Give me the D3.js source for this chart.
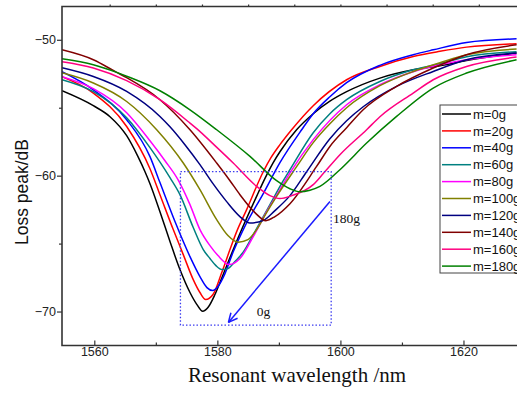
<!DOCTYPE html>
<html>
<head>
<meta charset="utf-8">
<script src="https://cdn.jsdelivr.net/npm/d3@7"></script>
<style>
  html, body { margin: 0; padding: 0; background: #fff; }
  svg { display: block; }
</style>
</head>
<body>
<div id="grafico"></div>
<script>
// Curvas de pérdida vs longitud de onda para distintas masas

const ancho = 517;
const alto = 398;

// series: [longitud de onda (nm), pérdida (dB)]
const m0g = [[1554.75,-53.75],[1559.84,-54.85],[1562.55,-55.66],[1565.26,-57.06],[1567.10,-58.60],[1568.24,-59.71],[1569.05,-60.59],[1570.67,-62.65],[1572.30,-64.85],[1573.92,-66.91],[1575.55,-68.60],[1576.68,-69.49],[1577.61,-69.98],[1578.47,-69.71],[1579.61,-68.75],[1580.75,-67.50],[1582.05,-66.03],[1583.67,-64.26],[1586.38,-61.52],[1587.72,-60.22],[1589.08,-59.04],[1590.17,-58.24],[1592.88,-56.62],[1595.58,-55.44],[1598.29,-54.52],[1601.01,-53.82],[1606.42,-52.82],[1611.83,-52.21],[1616.17,-51.91],[1620.50,-51.52],[1628.63,-50.98]];
const m20g = [[1554.75,-52.72],[1559.84,-53.92],[1565.26,-56.38],[1569.05,-59.49],[1570.67,-61.40],[1572.83,-63.97],[1574.46,-65.81],[1576.08,-67.65],[1577.17,-68.60],[1578.10,-69.12],[1579.29,-68.75],[1580.70,-67.15],[1582.05,-65.44],[1583.14,-64.12],[1584.76,-62.50],[1587.46,-59.71],[1588.71,-58.68],[1590.17,-57.72],[1592.07,-56.62],[1595.58,-54.85],[1601.01,-52.94],[1606.42,-51.96],[1611.83,-51.23],[1616.17,-50.85],[1620.50,-50.54],[1628.63,-50.29]];
const m40g = [[1554.75,-52.35],[1559.84,-53.68],[1565.26,-55.88],[1569.05,-58.60],[1570.67,-60.51],[1573.11,-63.38],[1575.55,-65.96],[1577.17,-67.43],[1578.31,-68.24],[1579.24,-68.46],[1580.10,-68.16],[1581.24,-67.21],[1582.53,-65.66],[1584.21,-63.97],[1587.46,-61.32],[1590.17,-59.04],[1593.70,-56.62],[1595.58,-55.44],[1598.29,-54.19],[1601.01,-53.16],[1606.42,-51.88],[1611.83,-51.10],[1615.08,-50.74],[1620.50,-50.20],[1628.63,-49.93]];
const m60g = [[1554.75,-52.94],[1559.84,-53.82],[1565.26,-55.74],[1569.05,-57.94],[1572.30,-60.15],[1573.92,-61.40],[1576.08,-63.82],[1577.71,-65.44],[1578.80,-66.10],[1579.77,-66.62],[1580.75,-66.91],[1581.72,-66.84],[1582.86,-66.32],[1584.16,-65.66],[1586.11,-64.12],[1588.55,-62.13],[1590.71,-60.37],[1591.80,-59.56],[1595.58,-56.84],[1598.29,-55.44],[1601.01,-54.41],[1606.42,-53.07],[1611.83,-52.21],[1616.17,-51.76],[1620.50,-51.25],[1628.63,-50.88]];
const m80g = [[1554.75,-52.72],[1559.84,-53.60],[1565.26,-55.37],[1569.05,-57.43],[1571.49,-58.90],[1573.60,-60.29],[1575.55,-62.13],[1577.17,-63.97],[1578.80,-65.15],[1580.10,-65.88],[1581.93,-66.54],[1583.67,-66.10],[1585.83,-64.49],[1588.01,-62.65],[1590.17,-61.03],[1591.80,-59.80],[1595.58,-57.35],[1601.01,-54.78],[1606.42,-53.31],[1611.83,-52.35],[1616.17,-51.84],[1620.50,-51.47],[1628.63,-51.10]];
const m100g = [[1554.75,-52.43],[1559.84,-53.18],[1565.26,-54.54],[1570.14,-56.62],[1574.46,-59.07],[1577.17,-61.03],[1579.89,-63.24],[1581.72,-64.41],[1583.40,-64.90],[1584.97,-64.71],[1586.38,-63.97],[1587.90,-62.79],[1589.63,-61.52],[1592.88,-59.34],[1595.58,-57.57],[1598.29,-56.18],[1601.01,-55.00],[1606.42,-53.38],[1611.83,-52.33],[1616.17,-51.69],[1620.50,-51.10],[1628.63,-50.68]];
const m120g = [[1554.75,-52.06],[1559.84,-52.70],[1565.26,-53.80],[1570.67,-55.64],[1572.30,-56.40],[1574.73,-57.72],[1577.17,-59.19],[1579.29,-60.59],[1581.51,-61.91],[1583.67,-63.01],[1585.30,-63.49],[1587.41,-63.31],[1589.36,-62.57],[1591.80,-61.47],[1594.51,-59.71],[1598.29,-57.28],[1601.01,-55.96],[1603.70,-54.93],[1609.13,-53.43],[1615.08,-52.33],[1620.50,-51.47],[1628.63,-50.98]];
const m140g = [[1554.75,-50.74],[1559.84,-51.47],[1563.64,-52.40],[1565.26,-52.79],[1570.67,-54.41],[1575.55,-56.62],[1579.89,-59.07],[1582.05,-60.37],[1583.67,-61.40],[1586.11,-62.72],[1587.90,-63.31],[1589.36,-63.01],[1591.80,-62.06],[1596.13,-59.32],[1598.29,-57.85],[1601.01,-56.47],[1603.70,-55.15],[1609.13,-53.43],[1615.08,-52.08],[1620.50,-51.10],[1628.63,-50.37]];
const m160g = [[1554.75,-51.62],[1559.84,-52.08],[1565.26,-53.01],[1570.67,-54.41],[1575.55,-56.13],[1576.64,-56.54],[1579.61,-57.79],[1582.58,-59.07],[1586.38,-60.79],[1588.55,-61.47],[1590.17,-61.69],[1592.12,-61.47],[1595.58,-60.66],[1597.21,-59.85],[1599.92,-58.46],[1604.26,-56.62],[1606.42,-55.66],[1611.83,-53.92],[1615.08,-52.94],[1620.50,-51.96],[1628.63,-51.27]];
const m180g = [[1554.75,-51.40],[1559.84,-51.84],[1563.64,-52.40],[1565.26,-52.68],[1570.67,-53.75],[1575.55,-55.15],[1579.89,-56.62],[1585.30,-58.58],[1589.63,-60.37],[1591.80,-60.96],[1593.42,-61.18],[1595.05,-61.07],[1596.67,-60.79],[1599.92,-59.56],[1604.26,-57.60],[1609.13,-55.64],[1615.08,-53.55],[1620.50,-52.45],[1628.63,-51.47]];

const nombres = ["m=0g","m=20g","m=40g","m=60g","m=80g","m=100g","m=120g","m=140g","m=160g","m=180g"];
const colores = ["#000000","#ff0000","#0000ff","#008080","#ff00ff","#808000","#000080","#800000","#ff0080","#008000"];
const seriesDatos = [m0g, m20g, m40g, m60g, m80g, m100g, m120g, m140g, m160g, m180g];

// ejes
const ticksX = [1560, 1580, 1600, 1620];
const ticksXMenor = [1570, 1590, 1610];
const ticksY = [-70, -60, -50];
const ticksYMenor = [-65, -55];

// anotación: recuadro punteado, flecha y textos
const recuadro = [[1574.0, -59.7], [1598.5, -71.0]];
const flecha = [[1598.3, -61.9], [1581.8, -70.8]];
const textos = [{t: "180g", p: [1598.8, -63.5]}, {t: "0g", p: [1586.4, -70.3]}];

const svg = d3.select("#grafico")
  .append("svg")
  .attr("width", ancho)
  .attr("height", alto);

const izq = 62, der = 517, arriba = 6.5, abajo = 345.5;

const x = d3.scaleLinear().domain([1554.75, 1628.7]).range([izq, der]);
const y = d3.scaleLinear().domain([-72.5, -47.55]).range([abajo, arriba]);

svg.append("defs").append("clipPath").attr("id", "recorte")
  .append("rect")
  .attr("x", izq).attr("y", arriba)
  .attr("width", der - izq + 10).attr("height", abajo - arriba);

// Curvas
const linea = d3.line()
  .x(d => x(d[0]))
  .y(d => y(d[1]))
  .curve(d3.curveMonotoneX);

const grupoCurvas = svg.append("g").attr("clip-path", "url(#recorte)");
seriesDatos.forEach((s, i) => {
  grupoCurvas.append("path")
    .datum(s)
    .attr("d", linea)
    .attr("fill", "none")
    .attr("stroke", colores[i])
    .attr("stroke-width", 1.5);
});

// Anotación
svg.append("rect")
  .attr("x", x(recuadro[0][0]))
  .attr("y", y(recuadro[0][1]))
  .attr("width", x(recuadro[1][0]) - x(recuadro[0][0]))
  .attr("height", y(recuadro[1][1]) - y(recuadro[0][1]))
  .attr("fill", "none")
  .attr("stroke", "#3b3bf0")
  .attr("stroke-width", 1.3)
  .attr("stroke-dasharray", "1.5,2");

const x1 = x(flecha[0][0]), y1 = y(flecha[0][1]);
const x2 = x(flecha[1][0]), y2 = y(flecha[1][1]);
const ang = Math.atan2(y2 - y1, x2 - x1);
svg.append("line")
  .attr("x1", x1).attr("y1", y1).attr("x2", x2).attr("y2", y2)
  .attr("stroke", "#1a1aff").attr("stroke-width", 1.5);
[-0.45, 0.45].forEach(a => {
  svg.append("line")
    .attr("x1", x2).attr("y1", y2)
    .attr("x2", x2 - 10 * Math.cos(ang + a))
    .attr("y2", y2 - 10 * Math.sin(ang + a))
    .attr("stroke", "#1a1aff").attr("stroke-width", 1.5);
});

textos.forEach(d => {
  svg.append("text")
    .attr("x", x(d.p[0])).attr("y", y(d.p[1]))
    .attr("font-family", "'Liberation Serif', 'Times New Roman', serif")
    .attr("font-size", 13.5)
    .attr("fill", "#111")
    .text(d.t);
});

// Ejes
const fuenteEje = "'Liberation Sans', Arial, sans-serif";

svg.append("g")
  .attr("transform", `translate(0,${abajo})`)
  .call(d3.axisBottom(x).tickValues(ticksX).tickSize(-5).tickPadding(2).tickFormat(d3.format("d")));
svg.append("g")
  .attr("transform", `translate(0,${abajo})`)
  .call(d3.axisBottom(x).tickValues(ticksXMenor).tickSize(-3).tickFormat(""));
svg.append("g")
  .attr("transform", `translate(0,${arriba})`)
  .call(d3.axisTop(x).tickValues(d3.range(1562.5, 1630, 7.5)).tickSize(2).tickFormat(""));

svg.append("g")
  .attr("transform", `translate(${izq},0)`)
  .call(d3.axisLeft(y).tickValues(ticksY).tickSize(5).tickPadding(1).tickFormat(d3.format("d")));
svg.append("g")
  .attr("transform", `translate(${izq},0)`)
  .call(d3.axisLeft(y).tickValues(ticksYMenor).tickSize(3).tickFormat(""));

svg.selectAll(".domain").remove();
svg.selectAll(".tick line").attr("stroke", "#333").attr("stroke-width", 1.2);
svg.selectAll(".tick text")
  .attr("font-family", fuenteEje)
  .attr("font-size", 12.5)
  .attr("fill", "#222");

// marco
svg.append("path")
  .attr("d", `M${der + 2},${arriba}H${izq}V${abajo}H${der + 2}`)
  .attr("fill", "none")
  .attr("stroke", "#333")
  .attr("stroke-width", 1.6);

// Títulos
svg.append("text")
  .attr("x", 297).attr("y", 382)
  .attr("text-anchor", "middle")
  .attr("font-family", "'Liberation Serif', 'Times New Roman', serif")
  .attr("font-size", 21)
  .attr("fill", "#111")
  .text("Resonant wavelength /nm");

svg.append("text")
  .attr("transform", "translate(28,192) rotate(-90)")
  .attr("text-anchor", "middle")
  .attr("font-family", fuenteEje)
  .attr("font-size", 17.5)
  .attr("fill", "#111")
  .text("Loss peak/dB");

// Leyenda
const leyenda = svg.append("g").attr("transform", "translate(440,105)");
leyenda.append("rect")
  .attr("width", 100).attr("height", 168)
  .attr("fill", "#fff")
  .attr("stroke", "#444").attr("stroke-width", 1);

nombres.forEach((n, i) => {
  const yy = 9 + i * 16.9;
  leyenda.append("line")
    .attr("x1", 2).attr("x2", 31).attr("y1", yy).attr("y2", yy)
    .attr("stroke", colores[i]).attr("stroke-width", 1.5);
  leyenda.append("text")
    .attr("x", 33).attr("y", yy).attr("dy", "0.36em")
    .attr("font-family", fuenteEje)
    .attr("font-size", 13)
    .attr("fill", "#111")
    .text(n);
});
</script>
</body>
</html>
